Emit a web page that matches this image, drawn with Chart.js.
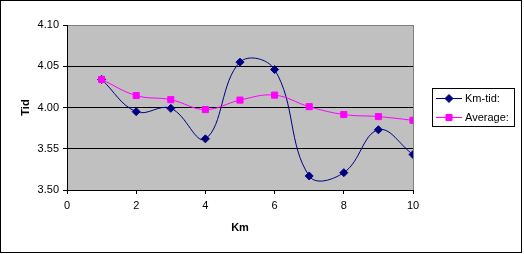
<!DOCTYPE html>
<html>
<head>
<meta charset="utf-8">
<script src="https://cdn.jsdelivr.net/npm/chart.js@4"></script>
<style>
html,body{margin:0;padding:0;background:#fff;}
canvas{display:block;}
</style>
</head>
<body>
<canvas id="c" width="524" height="254"></canvas>
<script>
// Data (times in seconds: 3.50 = 3 min 50 s = 230 s)
const km = [1, 2, 3, 4, 5, 6, 7, 8, 9, 10];
const kmTid = [243.4, 239.5, 239.9, 236.2, 245.5, 244.6, 231.7, 232.1, 237.3, 234.3];
const average = [243.4, 241.45, 240.95, 239.75, 240.9, 241.5, 240.1, 239.15, 238.9, 238.45];
const yTickValues = [230, 235, 240, 245, 250];
const yTickLabels = ['3.50', '3.55', '4.00', '4.05', '4.10'];
const xTickLabels = ['0', '2', '4', '6', '8', '10'];
const seriesNames = ['Km-tid:', 'Average:'];

const FONT = '"Liberation Sans", Arial, sans-serif';

const plotBg = {
  id: 'plotBg',
  beforeDraw(chart) {
    const {ctx, chartArea: a} = chart;
    ctx.save();
    ctx.fillStyle = '#fff';
    ctx.fillRect(0, 0, chart.width, chart.height);
    ctx.strokeStyle = '#000';
    ctx.lineWidth = 1;
    ctx.strokeRect(0.5, 0.5, 521, 252);
    ctx.fillStyle = '#C0C0C0';
    ctx.fillRect(a.left, a.top, a.right - a.left, a.bottom - a.top);
    ctx.restore();
  },
  beforeDatasetsDraw(chart) {
    const {ctx, chartArea: a} = chart;
    ctx.save();
    ctx.strokeStyle = '#808080';
    ctx.lineWidth = 1;
    ctx.beginPath();
    ctx.moveTo(Math.round(a.right) + 0.5, a.top);
    ctx.lineTo(Math.round(a.right) + 0.5, a.bottom);
    ctx.stroke();
    ctx.restore();
  },
  afterDraw(chart) {
    const ctx = chart.ctx;
    ctx.save();
    ctx.fillStyle = '#fff';
    ctx.fillRect(432, 88, 82, 38);
    ctx.strokeStyle = '#000';
    ctx.lineWidth = 1;
    ctx.strokeRect(432.5, 88.5, 82, 38);
    const rows = [98.5, 117.5];
    chart.data.datasets.forEach((ds, i) => {
      const y = rows[i];
      ctx.strokeStyle = ds.borderColor;
      ctx.lineWidth = 1;
      ctx.beginPath();
      ctx.moveTo(436, y);
      ctx.lineTo(462, y);
      ctx.stroke();
      ctx.fillStyle = ds.backgroundColor;
      ctx.strokeStyle = ds.borderColor;
      Chart.helpers.drawPoint(ctx, {pointStyle: ds.pointStyle, radius: ds.pointRadius, borderWidth: 1}, 449, y);
      ctx.fillStyle = '#000';
      ctx.font = '11px ' + FONT;
      ctx.textBaseline = 'middle';
      ctx.textAlign = 'left';
      ctx.fillText(seriesNames[i], 465, y);
    });
    ctx.restore();
  }
};

new Chart(document.getElementById('c'), {
  type: 'line',
  data: {
    datasets: [
      {
        label: seriesNames[0],
        data: km.map((k, i) => ({x: k, y: kmTid[i]})),
        borderColor: '#000080',
        backgroundColor: '#000080',
        borderWidth: 1,
        pointStyle: 'rectRot',
        pointRadius: 4,
        pointBorderWidth: 1,
        tension: 0.4,
        fill: false,
        order: 2
      },
      {
        label: seriesNames[1],
        data: km.map((k, i) => ({x: k, y: average[i]})),
        borderColor: '#FF00FF',
        backgroundColor: '#FF00FF',
        borderWidth: 1,
        pointStyle: 'rect',
        pointRadius: 4.3,
        pointBorderWidth: 1,
        tension: 0.4,
        fill: false,
        order: 1
      }
    ]
  },
  options: {
    responsive: false,
    animation: false,
    events: [],
    layout: {padding: {left: 0, top: 25, right: 111, bottom: 0}},
    plugins: {legend: {display: false}, tooltip: {enabled: false}},
    scales: {
      x: {
        type: 'linear',
        min: 0, max: 10,
        afterFit(s) { s.height = 64; },
        afterBuildTicks(s) { s.ticks = xTickLabels.map(v => ({value: Number(v)})); },
        ticks: {
          color: '#000',
          font: {family: FONT, size: 11},
          padding: 5,
          maxRotation: 0,
          callback: (v, i) => xTickLabels[i]
        },
        grid: {drawOnChartArea: false, drawTicks: true, tickLength: 4, tickColor: '#000'},
        border: {display: true, color: '#000', width: 1},
        title: {display: true, text: 'Km', color: '#000', font: {family: FONT, size: 11, weight: 'bold'}, padding: {top: 0, bottom: 19}}
      },
      y: {
        type: 'linear',
        min: 230, max: 250,
        afterFit(s) { s.width = 67; },
        afterBuildTicks(s) { s.ticks = yTickValues.map(v => ({value: v})); },
        ticks: {
          color: '#000',
          font: {family: FONT, size: 11},
          padding: 4,
          callback: (v, i) => yTickLabels[i]
        },
        grid: {
          color: (c) => (c.tick && c.tick.value === 250) ? '#808080' : '#000',
          tickColor: '#000',
          tickLength: 4,
          lineWidth: 1
        },
        border: {display: true, color: '#000', width: 1},
        title: {display: true, text: 'Tid', color: '#000', font: {family: FONT, size: 11, weight: 'bold'}, padding: {top: 19, bottom: 0}}
      }
    }
  },
  plugins: [plotBg]
});
</script>
</body>
</html>
